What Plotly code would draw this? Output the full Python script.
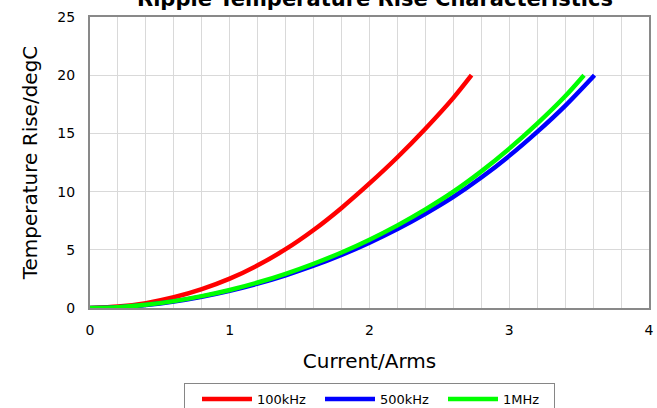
import plotly.graph_objects as go

# ---- data ----
current_100k = [0, 0.2, 0.4, 0.6, 0.8, 1.0, 1.2, 1.4, 1.6, 1.8, 2.0, 2.2, 2.4, 2.6, 2.73]
temp_100k = [0, 0.12, 0.42, 0.92, 1.62, 2.52, 3.67, 5.05, 6.7, 8.6, 10.7, 12.95, 15.4, 18.05, 20.0]

current_500k = [0, 0.2, 0.4, 0.6, 0.8, 1.0, 1.2, 1.4, 1.6, 1.8, 2.0, 2.2, 2.4, 2.6, 2.8, 3.0, 3.2, 3.4, 3.61]
temp_500k = [0, 0.065, 0.26, 0.56, 0.97, 1.48, 2.09, 2.81, 3.63, 4.56, 5.61, 6.78, 8.09, 9.54, 11.21, 13.07, 15.13, 17.37, 20.0]

current_1m = [0, 0.2, 0.4, 0.6, 0.8, 1.0, 1.2, 1.4, 1.6, 1.8, 2.0, 2.2, 2.4, 2.6, 2.8, 3.0, 3.2, 3.4, 3.535]
temp_1m = [0, 0.07, 0.27, 0.59, 1.02, 1.55, 2.19, 2.94, 3.8, 4.77, 5.87, 7.1, 8.47, 9.99, 11.74, 13.69, 15.84, 18.19, 20.0]

series_names = ["100kHz", "500kHz", "1MHz"]
series_colors = ["#ff0000", "#0000ff", "#00ff00"]

title_text = "Ripple Temperature Rise Characteristics"
x_title = "Current/Arms"
y_title = "Temperature Rise/degC"

FONT = "DejaVu Sans"
GRID = "#d9d9d9"
AXIS = "#898989"

fig = go.Figure()
for xs, ys, name, color in zip(
    [current_100k, current_500k, current_1m],
    [temp_100k, temp_500k, temp_1m],
    series_names,
    series_colors,
):
    fig.add_trace(
        go.Scatter(
            x=xs, y=ys, name=name, mode="lines",
            line=dict(color=color, width=4.5, shape="spline", smoothing=0.8),
        )
    )

fig.update_layout(
    width=657, height=408,
    margin=dict(l=90, r=8, t=17, b=100, autoexpand=False),
    paper_bgcolor="white", plot_bgcolor="white",
    font=dict(family=FONT, size=14, color="#000000"),
    showlegend=True,
    legend=dict(
        orientation="h", x=0.5, xanchor="center", y=-0.258, yanchor="top",
        bordercolor="#868686", borderwidth=1, font=dict(size=13, color="#000000"),
        bgcolor="white", entrywidth=46, entrywidthmode="pixels", itemwidth=50,
        indentation=12,
    ),
    annotations=[
        dict(
            text="<b>" + title_text + "</b>", xref="paper", yref="paper",
            x=0.51, y=1.015, xanchor="center", yanchor="bottom", showarrow=False,
            font=dict(size=21, color="#000000", family=FONT),
        )
    ],
)

fig.update_xaxes(
    range=[0, 4], tick0=0, dtick=1, ticks="", showgrid=True, gridcolor=GRID, gridwidth=1,
    minor=dict(dtick=0.2, showgrid=True, gridcolor=GRID, gridwidth=1),
    showline=True, linecolor=AXIS, linewidth=2, mirror=True, zeroline=False,
    ticklabelstandoff=8, automargin=False,
    title=dict(text=x_title, font=dict(size=20, color="#000000"), standoff=17),
    tickfont=dict(size=14, color="#000000"),
)
fig.update_yaxes(
    range=[0, 25], tick0=0, dtick=5, ticks="", showgrid=True, gridcolor=GRID, gridwidth=1,
    showline=True, linecolor=AXIS, linewidth=2, mirror=True, zeroline=False,
    ticklabelstandoff=10, automargin=False,
    title=dict(text=y_title, font=dict(size=20, color="#000000"), standoff=14),
    tickfont=dict(size=14, color="#000000"),
)

fig.write_html(
    "out.html",
    config={"displayModeBar": False},
    post_script="document.body.style.margin='0';document.body.style.overflow='hidden';",
)
